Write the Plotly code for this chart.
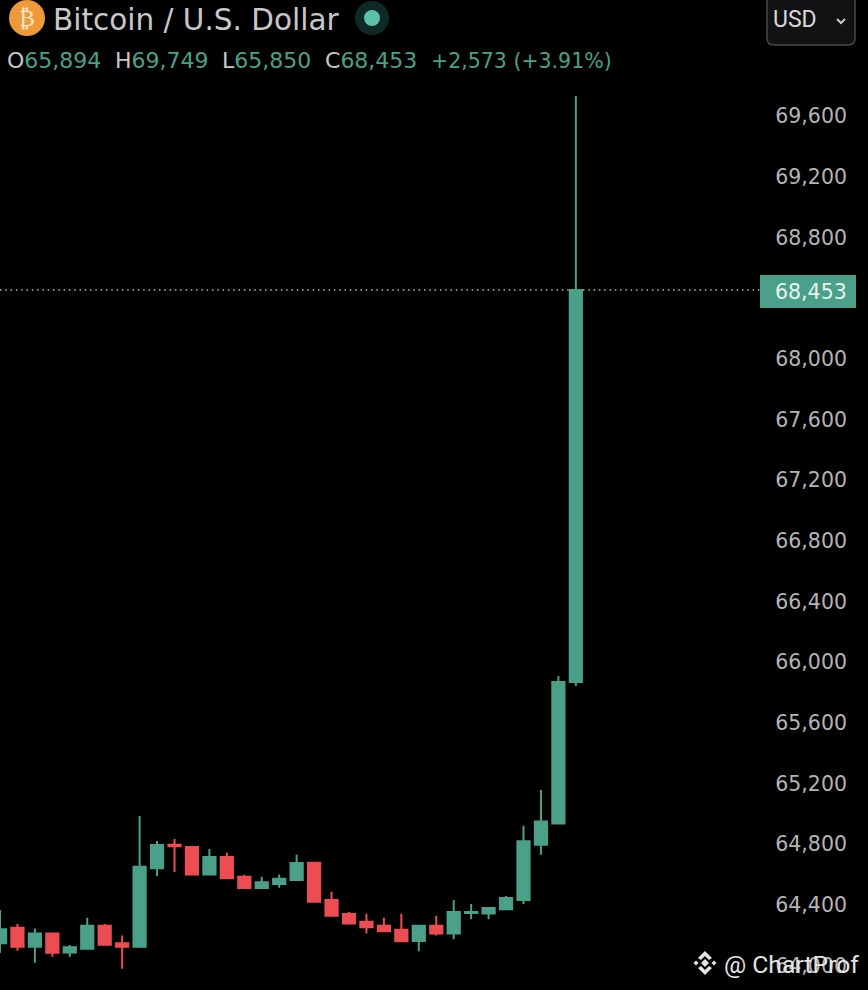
import plotly.graph_objects as go

# values
opens = [64147, 64249, 64124, 64212, 64087, 64111, 64263, 64147, 64124, 64641, 64797, 64781,
         64601, 64715, 64586, 64511, 64537, 64564, 64678, 64432, 64340, 64289, 64263, 64236,
         64162, 64263, 64212, 64347, 64344, 64371, 64432, 64797, 64937, 65869]
highs = [64366, 64274, 64245, 64218, 64135, 64315, 64274, 64199, 64986, 64821, 64834, 64781,
         64768, 64744, 64599, 64586, 64601, 64731, 64678, 64487, 64353, 64342, 64315, 64342,
         64263, 64328, 64432, 64406, 64379, 64458, 64922, 65157, 65909, 69732]
lows = [64085, 64098, 64019, 64058, 64058, 64111, 64137, 63979, 64124, 64590, 64617, 64601,
        64601, 64575, 64511, 64511, 64513, 64564, 64421, 64328, 64278, 64212, 64226, 64160,
        64095, 64199, 64173, 64305, 64305, 64371, 64406, 64731, 64937, 65843]
closes = [64239, 64124, 64212, 64085, 64120, 64263, 64137, 64124, 64652, 64795, 64786, 64601,
          64715, 64575, 64511, 64549, 64572, 64676, 64421, 64328, 64278, 64252, 64226, 64160,
          64263, 64212, 64353, 64353, 64379, 64445, 64819, 64949, 65869, 68453]
y_ticks = [64000, 64400, 64800, 65200, 65600, 66000, 66400, 66800, 67200, 67600, 68000, 68400, 68800, 69200, 69600]
y_tick_labels = ["64,000", "64,400", "64,800", "65,200", "65,600", "66,000", "66,400", "66,800",
                 "67,200", "67,600", "68,000", "", "68,800", "69,200", "69,600"]
last_price = 68453

GREEN = "#4AA088"
RED = "#EB4D52"
LIGHT = "#C8C8C8"
FONT = "DejaVu Sans"
PLOT_W = 850  # plot area stops 18px short of the right edge

# page pixels to paper coordinates
def px(x):
    return x / PLOT_W

def py(y):
    return 1 - y / 990

fig = go.Figure(go.Candlestick(
    x=list(range(len(opens))), open=opens, high=highs, low=lows, close=closes,
    whiskerwidth=0,
    increasing=dict(line=dict(color=GREEN, width=2), fillcolor=GREEN),
    decreasing=dict(line=dict(color=RED, width=2), fillcolor=RED),
    hoverinfo="skip",
))

def text(x, y, s, color=LIGHT, size=22, anchor="left", font=FONT):
    fig.add_annotation(x=px(x), y=py(y), xref="paper", yref="paper", text=s, showarrow=False,
                       xanchor=anchor, yanchor="middle", font=dict(family=font, size=size, color=color))

def circle(cx, cy, r, color):
    fig.add_shape(type="circle", xref="paper", yref="paper", x0=px(cx - r), x1=px(cx + r),
                  y0=py(cy - r), y1=py(cy + r), fillcolor=color, line_width=0)

def poly(points, fill=None, line=None, width=0):
    d = "M " + " L ".join(f"{px(a):.5f} {py(b):.5f}" for a, b in points)
    if fill:
        d += " Z"
    fig.add_shape(type="path", xref="paper", yref="paper", path=d, fillcolor=fill,
                  line=dict(color=line, width=width) if line else dict(width=0))

# last price line
fig.add_shape(type="line", xref="paper", yref="y", x0=0, x1=px(760), y0=last_price, y1=last_price,
              line=dict(color="#B8B8B8", width=1.5, dash="1.5px,3.8px"), layer="below")
poly([(760, 275), (856, 275), (856, 308), (760, 308)], fill=GREEN)
text(810.5, 291.5, "68,453", color="#E6F5EF", size=20.5, anchor="center")

# header
circle(27, 18, 18, "#EE9A3A")
text(27, 18, "₿", color="#FBE8CF", size=23, anchor="center")
text(51, 20, "Bitcoin / U.S. Dollar", size=29.5)
circle(372, 18, 17, "#0F2A26")
circle(372, 18, 8, "#5DC1A9")

for x_pos, letter, value in [(5, "O", "65,894"), (113, "H", "69,749"), (220, "L", "65,850"), (323, "C", "68,453")]:
    text(x_pos, 61, f'{letter}<span style="color:{GREEN}"> {value}</span>'.replace("> ", ">"))
text(429, 61, "+2,573 (+3.91%)", color=GREEN, size=20.5)

# currency button
fig.add_shape(type="path", xref="paper", yref="paper", fillcolor="#121214",
              line=dict(color="#4A4A4C", width=1.5),
              path=f"M {px(767)} {py(-2)} L {px(767)} {py(38)} Q {px(767)} {py(45)} {px(774)} {py(45)} "
                   f"L {px(848)} {py(45)} Q {px(855)} {py(45)} {px(855)} {py(38)} L {px(855)} {py(-2)} Z")
text(771, 19, "USD", color="#D8D8D8", size=23, font="Roboto")
poly([(837, 19), (841, 23), (845, 19)], line="#C8C8C8", width=2)

# watermark
for cx, cy, r in [(705, 963, 4), (696, 963, 2.5), (714, 963, 2.5)]:
    poly([(cx - r, cy), (cx, cy - r), (cx + r, cy), (cx, cy + r)], fill="#E4E4E4")
poly([(698, 958), (705, 951), (712, 958), (709, 960), (705, 956), (701, 960)], fill="#E4E4E4")
poly([(698, 968), (705, 975), (712, 968), (709, 966), (705, 970), (701, 966)], fill="#E4E4E4")
text(722, 964, "@ ChartProf", color="#E4E4E4", size=24.7, font="Roboto")

fig.update_layout(
    width=868, height=990,
    margin=dict(l=0, r=868 - PLOT_W, t=0, b=0),
    paper_bgcolor="#000000", plot_bgcolor="#000000",
    showlegend=False, boxgap=0.3, boxgroupgap=0,
    xaxis=dict(range=[0, PLOT_W / 17.45], visible=False, rangeslider=dict(visible=False), showgrid=False),
    yaxis=dict(range=[63839, 70365], side="right", ticklabelposition="inside",
               tickmode="array", tickvals=y_ticks, ticktext=y_tick_labels,
               showgrid=False, zeroline=False, showline=False, ticks="",
               tickfont=dict(family=FONT, size=20.5, color="#B4B4B4")),
)

# browser default body margin would push the figure 8px in
fig.write_html("out.html", config=dict(displayModeBar=False),
               post_script="document.body.style.margin='0';")
